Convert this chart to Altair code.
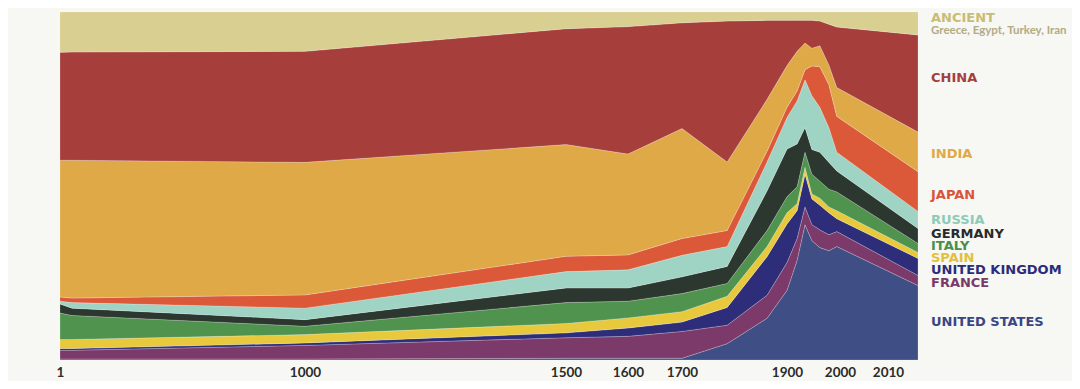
import altair as alt
import pandas as pd

# ---- data (share of world GDP, %) ----
years = [1, 50, 1000, 1500, 1600, 1700, 1786, 1862, 1900, 1919, 1934, 1947, 1962, 1979, 1994, 2016]

countries = ["United States", "France", "United Kingdom", "Spain", "Italy",
             "Germany", "Russia", "Japan", "India", "China", "Ancient"]

united_states = [0.3, 0.3, 0.3, 0.5, 0.5, 0.5, 4.7, 12.0, 20.0, 28.6, 38.9, 34.3, 32.3, 31.4, 32.6, 21.4]
france = [2.5, 2.5, 3.9, 5.9, 6.3, 7.7, 5.3, 6.6, 8.0, 6.3, 5.1, 4.6, 5.1, 4.6, 4.3, 2.9]
united_kingdom = [0.5, 0.5, 0.7, 1.4, 2.4, 2.7, 5.1, 11.1, 11.1, 8.0, 9.4, 7.4, 7.1, 6.3, 3.7, 4.9]
spain = [2.6, 2.6, 2.4, 2.7, 2.9, 3.0, 3.2, 2.9, 3.2, 2.0, 2.0, 1.4, 2.0, 1.7, 2.3, 1.7]
italy = [7.6, 6.9, 2.4, 6.0, 4.8, 5.2, 3.7, 4.6, 4.6, 4.9, 4.3, 5.7, 4.9, 5.1, 5.4, 2.6]
germany = [2.6, 2.1, 1.9, 4.2, 3.8, 4.8, 4.9, 11.4, 13.7, 12.3, 7.1, 7.1, 8.3, 7.7, 6.0, 4.3]
russia = [0.8, 1.6, 3.3, 4.7, 5.2, 6.2, 5.7, 8.3, 9.1, 12.3, 13.7, 15.4, 12.9, 10.0, 5.4, 4.9]
japan = [1.2, 1.3, 3.8, 4.4, 4.3, 4.8, 4.6, 3.1, 2.9, 2.9, 2.9, 8.6, 11.7, 12.3, 10.3, 11.4]
india = [39.3, 39.6, 38.1, 32.1, 29.0, 31.6, 19.7, 14.9, 12.0, 11.4, 7.7, 5.1, 6.0, 5.7, 8.3, 11.4]
china = [31.0, 31.1, 31.9, 33.3, 36.6, 30.4, 40.5, 22.7, 13.0, 8.9, 6.5, 8.0, 7.1, 11.7, 17.4, 27.9]
ancient = [11.6, 11.5, 11.3, 4.8, 4.2, 3.1, 2.6, 2.4, 2.4, 2.4, 2.4, 2.4, 2.6, 3.5, 4.3, 6.6]

series = [united_states, france, united_kingdom, spain, italy, germany,
          russia, japan, india, china, ancient]

area_colors = ["#3f4e84", "#7c3a6a", "#2d2d7a", "#e8c93e", "#4f934f",
               "#2c372f", "#9fd3c3", "#db5838", "#e0a947", "#a63f3c", "#d8cf90"]

tick_years = [1, 1000, 1500, 1600, 1700, 1900, 2000, 2010]

label_texts = ["ANCIENT", "CHINA", "INDIA", "JAPAN", "RUSSIA", "GERMANY",
               "ITALY", "SPAIN", "UNITED KINGDOM", "FRANCE", "UNITED STATES"]
label_pos = [98.3, 81.1, 59.1, 47.4, 40.3, 36.3, 32.9, 29.4, 26.0, 22.0, 10.9]
label_colors = ["#c8bd72", "#a63f3c", "#e0a947", "#d9553a", "#8dcbb8", "#2a2a2a",
                "#4a8f4a", "#e2c03a", "#2c2c7a", "#7a3a68", "#3a4585"]
sub_text = ["Greece, Egypt, Turkey, Iran"]
sub_pos = [94.6]

# ---- build table ----
rows = []
for i, (name, vals) in enumerate(zip(countries, series)):
    for yr, v in zip(years, vals):
        rows.append({"year": yr, "country": name, "share": v, "order": i})
df = pd.DataFrame(rows)

lab_df = pd.DataFrame({"text": label_texts, "pos": label_pos, "color": label_colors})
sub_df = pd.DataFrame({"text": sub_text, "pos": sub_pos})

W, H = 858, 348

x_scale = alt.Scale(domain=[1, 1000, 1500, 1600, 1700, 1900, 2000, 2010, 2016],
                    range=[0, 245, 506, 568, 622, 727, 780, 828, 858], nice=False, zero=False)
y_scale = alt.Scale(domain=[0, 100], nice=False)

area = alt.Chart(df).mark_area(
    interpolate="linear", stroke="#ffffff", strokeWidth=0.6, strokeOpacity=0.35
).encode(
    x=alt.X("year:Q", scale=x_scale,
            axis=alt.Axis(values=tick_years, title=None, grid=False, domain=False, ticks=False,
                          labelFont="Lato", labelFontSize=13.5, labelFontWeight="bold",
                          labelColor="#2b2b2b", labelPadding=5, labelFlush=False,
                          labelOverlap=False, format="d")),
    y=alt.Y("share:Q", stack="zero", scale=y_scale,
            axis=alt.Axis(values=list(range(0, 101, 10)), title=None, grid=False,
                          domain=False, ticks=False, labelExpr="datum.value + '%'",
                          labelFont="Lato", labelFontSize=12.5, labelFontWeight="bold",
                          labelColor="#3a3a3a", labelPadding=13)),
    color=alt.Color("country:N", scale=alt.Scale(domain=countries, range=area_colors), legend=None),
    order=alt.Order("order:Q", sort="ascending"),
)

labels = alt.Chart(lab_df).mark_text(
    align="left", baseline="middle", font="DejaVu Sans", fontWeight="bold", fontSize=13
).encode(
    x=alt.value(W + 13),
    y=alt.Y("pos:Q", scale=y_scale, axis=None),
    text="text:N",
    color=alt.Color("color:N", scale=None),
)

sub = alt.Chart(sub_df).mark_text(
    align="left", baseline="middle", font="Lato", fontWeight="bold", fontSize=11.5, color="#b3ab84"
).encode(
    x=alt.value(W + 13),
    y=alt.Y("pos:Q", scale=y_scale, axis=None),
    text="text:N",
)

chart = alt.layer(area, labels, sub).properties(
    width=W, height=H,
    background="#f7f7f3",
    padding={"left": 52, "top": 4, "right": 154, "bottom": 21},
    autosize=alt.AutoSizeParams(type="none"),
).configure_view(stroke=None)

chart.save("out.html", embed_options={"renderer": "svg", "actions": False})
